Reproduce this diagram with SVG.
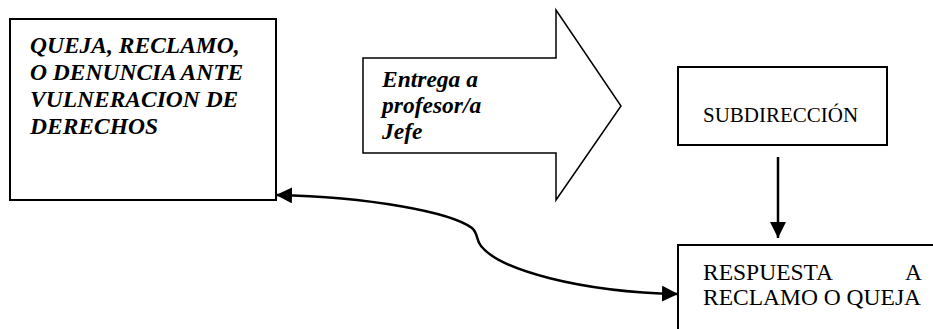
<svg xmlns="http://www.w3.org/2000/svg" width="933" height="329" viewBox="0 0 933 329">
<defs>
<style>
.box{fill:#fff;stroke:#000;stroke-width:2}
.bi{font-family:"Liberation Serif","Times New Roman",serif;font-weight:bold;font-style:italic;fill:#000}
.rg{font-family:"Liberation Serif","Times New Roman",serif;fill:#000}
.conn{fill:none;stroke:#000;stroke-width:2.5}
</style>
<marker id="ah2" viewBox="0 0 10 10" refX="10" refY="5" markerWidth="16" markerHeight="16" markerUnits="userSpaceOnUse" orient="auto-start-reverse">
<path d="M0,0 L10,5 L0,10 z" fill="#000"/>
</marker>
</defs>
<rect width="933" height="329" fill="#fff"/>
<g id="queja">
<rect class="box" x="10" y="19" width="266" height="181"/>
<text class="bi" font-size="23.5"><tspan x="30" y="53">QUEJA, RECLAMO,</tspan><tspan x="30" y="80">O DENUNCIA ANTE</tspan><tspan x="30" y="107">VULNERACION DE</tspan><tspan x="30" y="134">DERECHOS</tspan></text>
</g>
<g id="entrega">
<path d="M363,58 L556,58 L556,10 L621,106 L556,200 L556,153 L363,153 Z" fill="#fff" stroke="#000" stroke-width="1.5"/>
<text class="bi" font-size="23.5"><tspan x="382" y="87">Entrega a</tspan><tspan x="382" y="113">profesor/a</tspan><tspan x="382" y="139">Jefe</tspan></text>
</g>
<g id="subdireccion">
<rect class="box" x="678" y="67" width="209" height="78"/>
<text class="rg" x="703" y="122" font-size="21">SUBDIRECCIÓN</text>
</g>
<g id="respuesta">
<rect class="box" x="678" y="245" width="270" height="100"/>
<text class="rg" font-size="23.5"><tspan x="703" y="280">RESPUESTA</tspan><tspan x="922" y="280" text-anchor="end">A</tspan><tspan x="703" y="305">RECLAMO O QUEJA</tspan></text>
</g>
<g id="connectors">
<path class="conn" d="M778,157 L778,238" marker-end="url(#ah2)"/>
<path class="conn" d="M276,195 C370,197 450,212 472,228 C478,233 476,240 481,246 C500,270 580,292 678,294" marker-start="url(#ah2)" marker-end="url(#ah2)"/>
</g>
</svg>
